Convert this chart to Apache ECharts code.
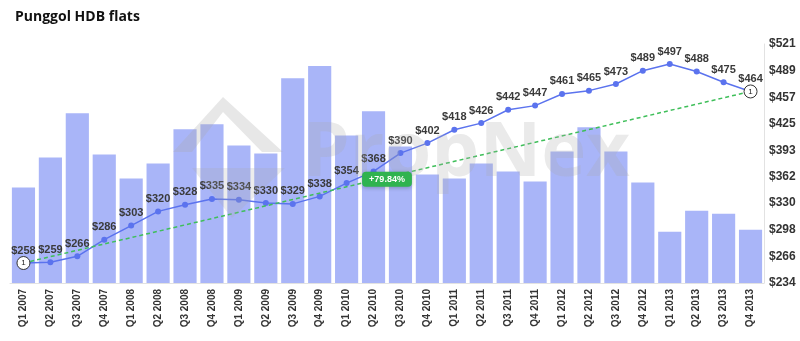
<!DOCTYPE html>
<html><head><meta charset="utf-8">
<script src="https://cdn.jsdelivr.net/npm/echarts@6/dist/echarts.min.js"></script>
<style>html,body{margin:0;padding:0;background:#fff}#c{width:800px;height:341px}</style>
</head><body><div id="c"></div>
<script>
const categories = ['Q1 2007','Q2 2007','Q3 2007','Q4 2007','Q1 2008','Q2 2008','Q3 2008','Q4 2008',
  'Q1 2009','Q2 2009','Q3 2009','Q4 2009','Q1 2010','Q2 2010','Q3 2010','Q4 2010',
  'Q1 2011','Q2 2011','Q3 2011','Q4 2011','Q1 2012','Q2 2012','Q3 2012','Q4 2012',
  'Q1 2013','Q2 2013','Q3 2013','Q4 2013'];
const prices = [258,259,266,286,303,320,328,335,334,330,329,338,354,368,390,402,418,426,442,447,461,465,473,489,497,488,475,464];
const volumes = [95,125,169,128,104,119,153,158,137,129,204,216,147,171,136,108,104,119,111,101,131,155,131,100,51,72,69,53];
const priceTicks = [234,266,298,330,362,393,425,457,489,521];
const trendLabel = '+79.84%';
const trendMarker = '1';

const chart = echarts.init(document.getElementById('c'));
const n = prices.length;
const trendData = prices.map((v, i) => (i === 0 || i === n - 1) ? v : null);
const FONT = 'Liberation Sans';

chart.setOption({
  animation: false,
  title: {
    text: 'Punggol HDB flats', left: 10, top: 5,
    textStyle: {fontFamily: 'Open Sans', fontWeight: 'bold', fontSize: 14, color: '#111'}
  },
  grid: {left: 10, right: 36, top: 44, bottom: 58},
  xAxis: {
    type: 'category', data: categories,
    axisLine: {show: true, lineStyle: {color: '#e2e2e2'}},
    axisTick: {show: false},
    axisLabel: {rotate: 90, fontSize: 10, fontWeight: 'bold', color: '#333', fontFamily: FONT, margin: 6}
  },
  yAxis: [{
    type: 'value', position: 'right', min: 234, max: 521,
    axisLine: {show: true, lineStyle: {color: '#e2e2e2'}},
    axisTick: {show: false},
    splitLine: {show: false},
    axisLabel: {customValues: priceTicks, formatter: v => '$' + v, fontSize: 12, fontWeight: 'bold',
      color: '#333', fontFamily: FONT, margin: 5}
  }, {
    type: 'value', min: 0, max: 238, show: false, splitLine: {show: false}
  }],
  series: [{
    type: 'bar', data: volumes, yAxisIndex: 1, barCategoryGap: '14%',
    itemStyle: {color: '#a9b5f8'}, z: 1
  }, {
    type: 'line', data: prices, yAxisIndex: 0, z: 3,
    lineStyle: {color: '#5b73ee', width: 1.5},
    itemStyle: {color: '#5b73ee'},
    symbol: 'circle', symbolSize: 6, showAllSymbol: true,
    label: {show: true, position: 'top', distance: 4, formatter: p => '$' + p.value,
      fontSize: 11, fontWeight: 'bold', color: '#3a3a3a', fontFamily: FONT}
  }, {
    type: 'line', data: trendData, yAxisIndex: 0, connectNulls: true, z: 4,
    lineStyle: {color: '#3fbf5a', width: 1.5, type: [4, 3]},
    symbol: 'circle', symbolSize: 13,
    itemStyle: {color: '#fff', borderColor: '#333', borderWidth: 1},
    label: {show: true, position: 'inside', formatter: trendMarker, fontSize: 8, color: '#222', fontFamily: FONT}
  }]
});

const p1 = chart.convertToPixel({xAxisIndex: 0, yAxisIndex: 0}, [0, prices[0]]);
const p2 = chart.convertToPixel({xAxisIndex: 0, yAxisIndex: 0}, [n - 1, prices[n - 1]]);
const mx = (p1[0] + p2[0]) / 2, my = (p1[1] + p2[1]) / 2 + 2;

chart.setOption({
  graphic: [
    {type: 'polygon', z: 50, silent: true,
      shape: {points: [[173,152],[223,97],[283,152],[262,152],[223,112],[192,152]]},
      style: {fill: 'rgba(170,170,170,0.28)'}},
    {type: 'polygon', z: 50, silent: true,
      shape: {points: [[192,168],[285,168],[232,218]]},
      style: {fill: 'rgba(170,170,170,0.22)'}},
    {type: 'text', z: 50, silent: true, left: 302, top: 116,
      style: {text: 'PropNex', font: 'bold 76px "Open Sans"', fill: 'rgba(170,170,170,0.25)'}},
    {type: 'text', z: 100, x: mx, y: my,
      style: {text: trendLabel, align: 'center', verticalAlign: 'middle',
        fill: '#fff', font: 'bold 9px "Liberation Sans"',
        backgroundColor: '#2fb34f', padding: [3, 7, 3, 7], borderRadius: 4,
        shadowBlur: 4, shadowColor: 'rgba(0,0,0,0.25)', shadowOffsetY: 1}}
  ]
});
</script></body></html>
